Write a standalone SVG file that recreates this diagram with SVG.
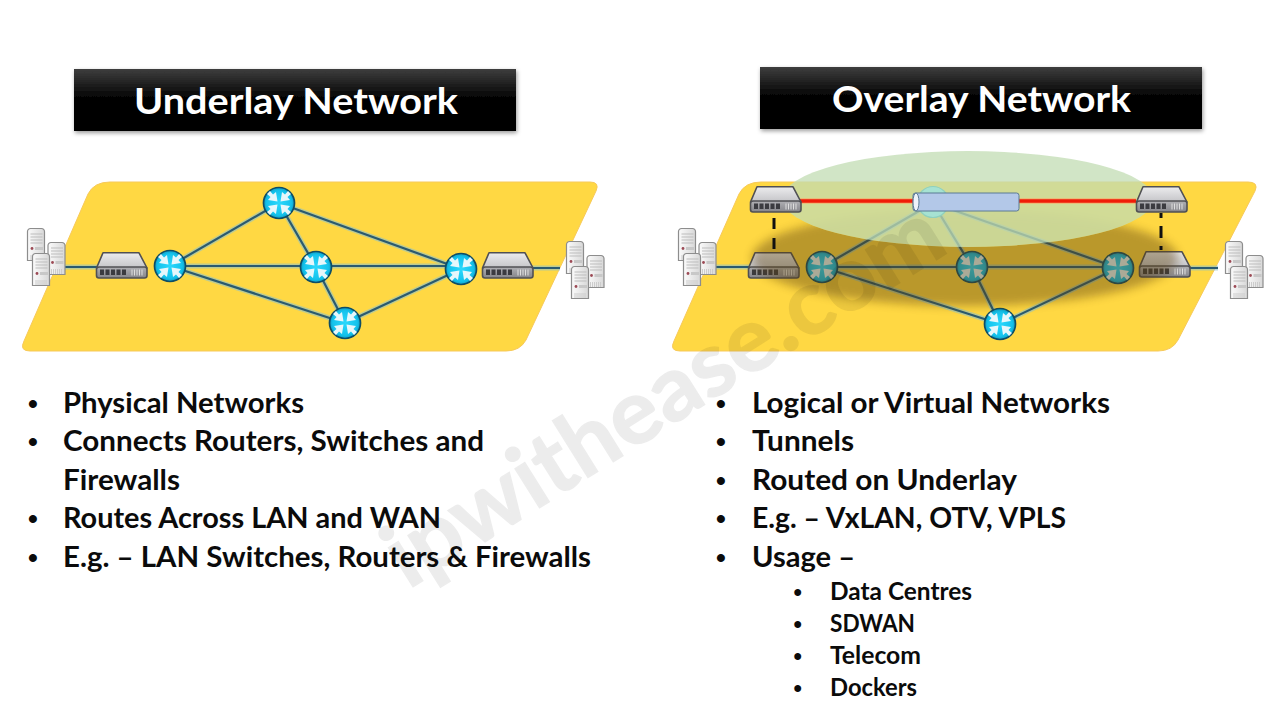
<svg xmlns="http://www.w3.org/2000/svg" width="1280" height="720" viewBox="0 0 1280 720">
<style>
.panel{fill:#ffd843;stroke:#f7c95a;stroke-width:1}
.bar{fill:url(#barG);filter:url(#sh)}
.title{font-family:"Lato","Open Sans",sans-serif;font-weight:700;font-size:36px;fill:#fff}
.b{font-family:"Lato","Open Sans",sans-serif;font-weight:700;font-size:28px;fill:#0b0b0b}
.s{font-family:"Lato","Open Sans",sans-serif;font-weight:700;font-size:24px;fill:#0b0b0b}
.d{font-family:"Liberation Sans",sans-serif;font-weight:700;font-size:28px;fill:#0b0b0b}
.ds{font-family:"Liberation Sans",sans-serif;font-weight:700;font-size:24px;fill:#0b0b0b}
.glow{fill:none;stroke:#8fc3c8;stroke-width:5;opacity:.6}
.link{fill:none;stroke:#2a5a70;stroke-width:2.2}
.red{stroke:#f01c08;stroke-width:3.4;fill:none}
.redg{stroke:#ffa060;stroke-width:5.5;fill:none;opacity:.7}
.dash{stroke:#111;stroke-width:3;fill:none}
.wm{font-family:"Lato","Open Sans",sans-serif;font-weight:700;font-size:90px;fill:#000;stroke:#000;stroke-width:1.5;opacity:.07}
</style>
<defs>
<linearGradient id="barG" x1="0" y1="0" x2="0" y2="1"><stop offset="0" stop-color="#3e3e3e"/><stop offset=".45" stop-color="#060606"/><stop offset="1" stop-color="#000"/></linearGradient>
<radialGradient id="rg" cx=".5" cy=".5" r=".55"><stop offset="0" stop-color="#2ad8fc"/><stop offset=".72" stop-color="#14c2ec"/><stop offset="1" stop-color="#0a8cb3"/></radialGradient>
<linearGradient id="swTop" x1="0" y1="0" x2="0" y2="1"><stop offset="0" stop-color="#ececee"/><stop offset="1" stop-color="#c4c4c8"/></linearGradient>
<linearGradient id="swFace" x1="0" y1="0" x2="0" y2="1"><stop offset="0" stop-color="#b0b0b4"/><stop offset="1" stop-color="#85858a"/></linearGradient>
<linearGradient id="srv" x1="0" y1="0" x2="1" y2="0"><stop offset="0" stop-color="#fbfbfb"/><stop offset="1" stop-color="#d8d8d8"/></linearGradient>
<filter id="sh" x="-5%" y="-10%" width="110%" height="125%"><feDropShadow dx="1" dy="2" stdDeviation="2" flood-color="#000" flood-opacity=".4"/></filter>
<filter id="blur" x="-20%" y="-40%" width="140%" height="180%"><feGaussianBlur stdDeviation="5"/></filter>
<mask id="cloudMask" maskUnits="userSpaceOnUse" x="0" y="0" width="1280" height="720"><rect width="1280" height="720" fill="#fff"/><ellipse cx="968" cy="199" rx="186" ry="48" fill="#555"/></mask>
<polygon id="arw" points="-1.500,-1.500 -3,-11 -6,-8.500 -9,-12 -12,-9 -8.500,-6 -11,-3" fill="#e6f7fb"/>
<g id="router">
<circle r="15.500" fill="url(#rg)" stroke="#0e4d66" stroke-width="1.700"/>
<use href="#arw"/><use href="#arw" transform="rotate(90)"/><use href="#arw" transform="rotate(180)"/><use href="#arw" transform="rotate(270)"/>
</g>
<g id="switch">
<polygon points="7,0.800 43,0.800 51,16 0.500,16" fill="url(#swTop)" stroke="#505054" stroke-width="1.600" stroke-linejoin="round"/>
<rect x="0.500" y="15" width="50.500" height="11" rx="2.500" fill="url(#swFace)" stroke="#505054" stroke-width="1.600"/>
<g fill="#3b3b40"><rect x="4" y="17.500" width="4" height="5.500"/><rect x="9.500" y="17.500" width="4" height="5.500"/><rect x="15" y="17.500" width="4" height="5.500"/><rect x="20.500" y="17.500" width="4" height="5.500"/><rect x="26" y="17.500" width="4" height="5.500"/></g>
<path d="M36 17.500v6M38.500 17.500v6M41 17.500v6M43.500 17.500v6M46 17.500v6" stroke="#dedede" stroke-width="1"/>
</g>
<g id="server">
<path d="M0.500 3.500a3 3 0 0 1 3-3h11a3 3 0 0 1 3 3v29h-17z" fill="url(#srv)" stroke="#8d8d8d" stroke-width="1.200"/>
<path d="M3.500 6h12M3.500 9h12M3.500 12h12M3.500 15h12" stroke="#bdbdbd" stroke-width="1"/>
<rect x="8" y="19" width="8" height="3" fill="#c8c8c8"/><circle cx="5" cy="20.500" r="1.400" fill="#9c4a55"/>
<path d="M4 27v5M6 27v5M8 27v5M10 27v5M12 27v5M14 27v5" stroke="#ccc" stroke-width="1"/>
</g>
<g id="servers"><use href="#server" x="0" y="0"/><use href="#server" x="20.500" y="14"/><use href="#server" x="5" y="25"/></g>
</defs>
<rect width="1280" height="720" fill="#fff"/>

<g id="underlay-title"><rect class="bar" x="74" y="69" width="442" height="62"/><text class="title" x="134" y="114" textLength="324" lengthAdjust="spacingAndGlyphs">Underlay Network</text></g>
<g id="overlay-title"><rect class="bar" x="760" y="67" width="442" height="62"/><text class="title" x="832" y="112" textLength="299" lengthAdjust="spacingAndGlyphs">Overlay Network</text></g>

<path id="underlay-plane" class="panel" d="M88 194Q94 182 110 182H590Q600 182 596 191L526 340Q520 351 506 351H30Q19 351 24 341Z"/>
<path id="overlay-plane" class="panel" d="M739 194Q745 182 761 182H1248Q1259 182 1255 191L1178 340Q1172 351 1158 351H680Q669 351 674 341Z"/>

<g id="connectors-underlay">
<path class="glow" d="M50 267H120M170 266L279 203M170 266H461M170 266L345 323M279 203L316 267M279 203L461 269M316 267L345 323M345 323L461 269M505 268H560"/>
<path class="link" d="M50 267H120M170 266L279 203M170 266H461M170 266L345 323M279 203L316 267M279 203L461 269M316 267L345 323M345 323L461 269M505 268H560"/>
</g>
<g id="connectors-overlay-lower">
<path class="glow" d="M715 267H770M822 267L933 203M822 267H1118M822 267L1000 324M933 203L972 267M933 203L1118 268M972 267L1000 324M1000 324L1118 268M1165 268H1218"/>
<path class="link" d="M715 267H770M822 267L933 203M822 267H1118M822 267L1000 324M933 203L972 267M933 203L1118 268M972 267L1000 324M1000 324L1118 268M1165 268H1218"/>
</g>

<g id="u-server-a"><use href="#servers" x="27" y="228"/></g>
<g id="u-switch-a"><use href="#switch" x="96" y="252"/></g>
<g id="u-router-a"><use href="#router" x="170" y="266"/></g>
<g id="u-router-b"><use href="#router" x="279" y="203"/></g>
<g id="u-router-c"><use href="#router" x="316" y="267"/></g>
<g id="u-router-d"><use href="#router" x="345" y="323"/></g>
<g id="u-router-e"><use href="#router" x="461" y="269"/></g>
<g id="u-switch-b"><use href="#switch" x="482" y="252"/></g>
<g id="u-server-b"><use href="#servers" x="566" y="241"/></g>

<g id="o-server-a"><use href="#servers" x="678" y="228"/></g>
<g id="o-switch-c"><use href="#switch" x="748" y="252"/></g>
<g id="o-router-a"><use href="#router" x="822" y="267"/></g>
<g id="o-router-c"><use href="#router" x="972" y="267"/></g>
<g id="o-router-d"><use href="#router" x="1000" y="324"/></g>
<g id="o-router-e"><use href="#router" x="1118" y="268"/></g>
<g id="o-switch-d"><use href="#switch" x="1139" y="251"/></g>
<g id="o-server-b"><use href="#servers" x="1225" y="241"/></g>

<g mask="url(#cloudMask)"><ellipse id="shadow" cx="965" cy="258" rx="213" ry="48" fill="#5c3f0c" opacity=".42" filter="url(#blur)"/></g>
<ellipse id="overlay-cloud" cx="968" cy="199" rx="186" ry="48" fill="#c1dcb3" opacity=".75"/>
<g id="o-router-b"><circle cx="933" cy="202" r="15.500" fill="#a6e2d2" stroke="#8fd0bd" stroke-width="1.200"/></g>

<g id="connectors-overlay-upper">
<path class="redg" d="M800 201H913M1019 201H1136"/>
<path class="red" d="M800 201H913M1019 201H1136"/>
<path class="dash" d="M774 218V250" stroke-dasharray="11 9"/>
<path class="dash" d="M1161 213V250" stroke-dasharray="12 8" stroke-dashoffset="7"/>
</g>
<g id="tunnel"><rect x="913" y="193" width="106" height="18" rx="2.500" fill="#b3c8e8" stroke="#5b7a94" stroke-width="1"/><ellipse cx="916" cy="202" rx="3" ry="9" fill="#eef3fa" stroke="#5b7a94" stroke-width="1"/></g>
<g id="o-switch-a"><use href="#switch" x="750" y="186"/></g>
<g id="o-switch-b"><use href="#switch" x="1136" y="186"/></g>

<text class="wm" transform="translate(408 590) rotate(-32)" textLength="640" lengthAdjust="spacingAndGlyphs">ipwithease.com</text>

<g id="underlay-list">
<text class="d" x="28" y="413">•</text><text class="b" x="63" y="413" textLength="241" lengthAdjust="spacingAndGlyphs">Physical Networks</text>
<text class="d" x="28" y="451">•</text><text class="b" x="63" y="451" textLength="421" lengthAdjust="spacingAndGlyphs">Connects Routers, Switches and</text>
<text class="b" x="63" y="490" textLength="117" lengthAdjust="spacingAndGlyphs">Firewalls</text>
<text class="d" x="28" y="528">•</text><text class="b" x="63" y="528" textLength="378" lengthAdjust="spacingAndGlyphs">Routes Across LAN and WAN</text>
<text class="d" x="28" y="567">•</text><text class="b" x="63" y="567" textLength="528" lengthAdjust="spacingAndGlyphs">E.g. – LAN Switches, Routers &amp; Firewalls</text>
</g>
<g id="overlay-list">
<text class="d" x="716" y="413">•</text><text class="b" x="752" y="413" textLength="358" lengthAdjust="spacingAndGlyphs">Logical or Virtual Networks</text>
<text class="d" x="716" y="451">•</text><text class="b" x="752" y="451" textLength="102" lengthAdjust="spacingAndGlyphs">Tunnels</text>
<text class="d" x="716" y="490">•</text><text class="b" x="752" y="490" textLength="265" lengthAdjust="spacingAndGlyphs">Routed on Underlay</text>
<text class="d" x="716" y="528">•</text><text class="b" x="752" y="528" textLength="314" lengthAdjust="spacingAndGlyphs">E.g. – VxLAN, OTV, VPLS</text>
<text class="d" x="716" y="567">•</text><text class="b" x="752" y="567" textLength="103" lengthAdjust="spacingAndGlyphs">Usage –</text>
<text class="ds" x="793.500" y="600">•</text><text class="s" x="830" y="600" textLength="142" lengthAdjust="spacingAndGlyphs">Data Centres</text>
<text class="ds" x="793.500" y="632">•</text><text class="s" x="830" y="632" textLength="85" lengthAdjust="spacingAndGlyphs">SDWAN</text>
<text class="ds" x="793.500" y="664">•</text><text class="s" x="830" y="664" textLength="91" lengthAdjust="spacingAndGlyphs">Telecom</text>
<text class="ds" x="793.500" y="696">•</text><text class="s" x="830" y="696" textLength="87" lengthAdjust="spacingAndGlyphs">Dockers</text>
</g>
</svg>
